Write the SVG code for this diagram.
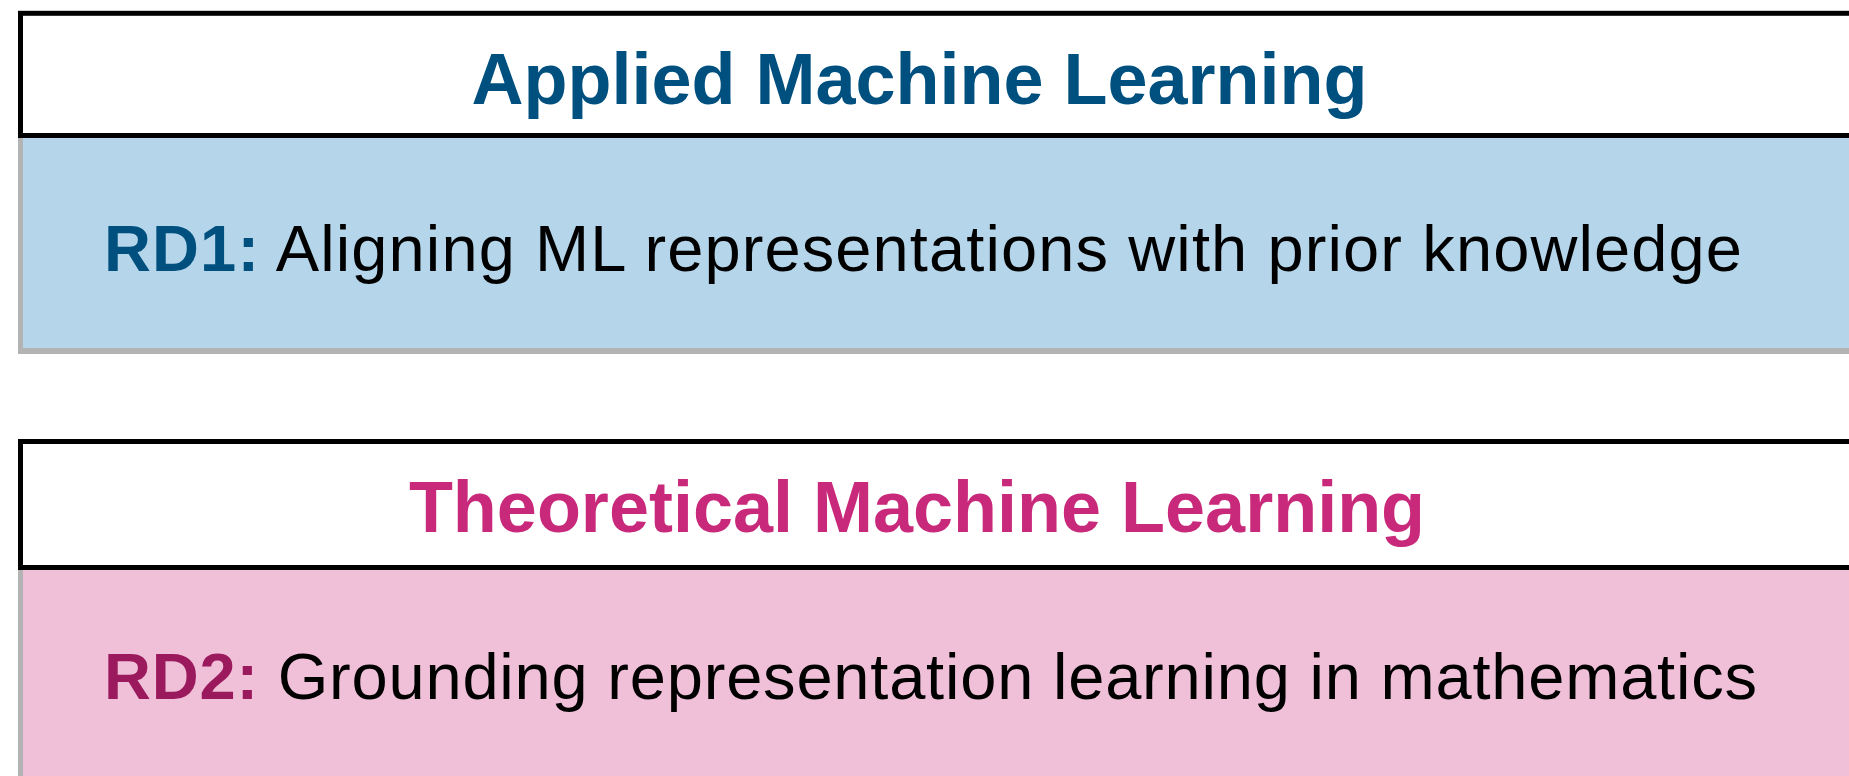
<svg xmlns="http://www.w3.org/2000/svg" width="1849" height="776" viewBox="0 0 1849 776">
<style>
.hdr{fill:#ffffff;stroke:#000000;stroke-width:5}
.shadow{fill:#b3b3b3}
.title{font-family:"Liberation Sans",Arial,Helvetica,sans-serif;font-weight:bold;font-size:72px;text-anchor:middle}
.body{font-family:"Liberation Sans",Arial,Helvetica,sans-serif;font-size:65px;fill:#000000}
.lbl{font-weight:bold}
</style>
<rect width="1849" height="776" fill="#ffffff"/>
<g id="applied">
  <rect class="shadow" x="18" y="137" width="1840" height="217"/>
  <rect x="23" y="137" width="1835" height="211" fill="#b5d6ea"/>
  <rect class="hdr" x="20.5" y="13.3" width="1840" height="122.2"/>
  <text class="title" x="919.5" y="103.5" fill="#00507f">Applied Machine Learning</text>
  <text class="body" x="104" y="271" textLength="1638" lengthAdjust="spacing"><tspan class="lbl" fill="#00507f">RD1:</tspan> Aligning ML representations with prior knowledge</text>
</g>
<g id="theoretical">
  <rect class="shadow" x="18" y="568" width="1840" height="220"/>
  <rect x="23" y="568" width="1835" height="220" fill="#f0bfd8"/>
  <rect class="hdr" x="20.5" y="441.5" width="1840" height="126"/>
  <text class="title" x="917" y="531.7" fill="#c9297a">Theoretical Machine Learning</text>
  <text class="body" x="104" y="699" textLength="1653" lengthAdjust="spacing"><tspan class="lbl" fill="#9b1a5d">RD2:</tspan> Grounding representation learning in mathematics</text>
</g>
<g id="connectors"></g>
</svg>
